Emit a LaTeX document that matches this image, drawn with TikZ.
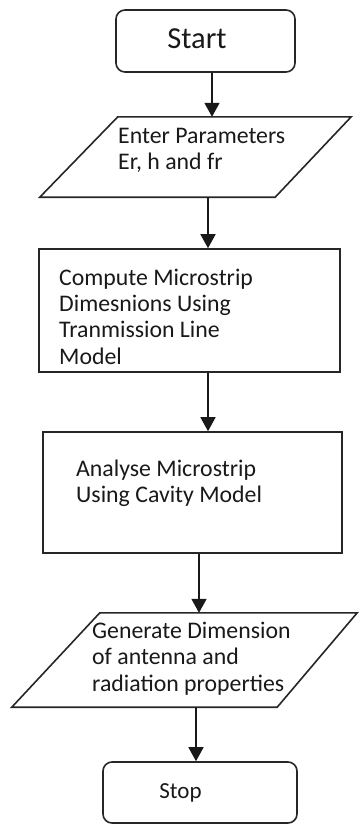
\documentclass[tikz,border=0pt]{standalone}
\usepackage{fontspec}
\setmainfont{Carlito}
\usetikzlibrary{arrows.meta,calc}
\newcommand{\tstrut}{\rule{0pt}{18pt}}
\begin{document}
\begin{tikzpicture}[x=1pt,y=-1pt,
  shp/.style={draw=black!85, line width=1.6pt, inner sep=0pt},
  ghost/.style={draw=none, inner sep=0pt},
  arr/.style={draw=black!90, line width=1.6pt, -{Triangle[length=14pt,width=15pt]}},
  txt/.style={anchor=north west, inner sep=0pt, align=left, text=black!90},
  body/.style={font=\fontsize{23.8}{26.3}\selectfont}]
\useasboundingbox (0,0) rectangle (359,825);

% shapes
\node[shp, rounded corners=9pt, minimum width=179pt, minimum height=62pt] (start) at (205.5,41) {};
\node[ghost, minimum width=157pt, minimum height=80pt] (p1) at (196.5,157) {};
\draw[shp] (p1.north west) -- ($(p1.north east)+(76,0)$) -- (p1.south east) -- ($(p1.south west)+(-78,0)$) -- cycle;
\node[shp, minimum width=301pt, minimum height=123pt] (b2) at (189.5,310.5) {};
\node[shp, minimum width=299pt, minimum height=121pt] (b3) at (192.5,492.5) {};
\node[ghost, minimum width=177pt, minimum height=94pt] (p2) at (188.5,660) {};
\draw[shp] (p2.north west) -- ($(p2.north east)+(80,0)$) -- (p2.south east) -- ($(p2.south west)+(-88,0)$) -- cycle;
\node[shp, rounded corners=9pt, minimum width=194pt, minimum height=61pt] (stop) at (200,792.5) {};

% texts
\node[anchor=base, inner sep=0pt, text=black!90, font=\fontsize{30.5}{34}\selectfont] (t1) at (197,48) {Start};
\node[txt, font=\fontsize{23.8}{26}\selectfont] (t2) at (118,125) {\tstrut Enter Parameters\\Er, h and fr};
\node[txt, body] (t3) at (59,267) {\tstrut Compute Microstrip\\Dimesnions Using\\Tranmission Line\\Model};
\node[txt, font=\fontsize{23.8}{26}\selectfont] (t4) at (76,458) {\tstrut Analyse Microstrip\\Using Cavity Model};
\node[txt, font=\fontsize{23.8}{26.5}\selectfont] (t5) at (92,620) {\tstrut Generate Dimension\\of antenna and\\radiation properties};
\node[anchor=base, inner sep=0pt, text=black!90, font=\fontsize{23}{26}\selectfont] (t6) at (180.5,798) {Stop};

% arrow columns
\coordinate (x1) at (212,0);
\coordinate (x2) at (208,0);
\coordinate (x3) at (208,0);
\coordinate (x4) at (199,0);
\coordinate (x5) at (196,0);

\draw[arr] (start.south -| x1) -- (p1.north -| x1);
\draw[arr] (p1.south -| x2) -- (b2.north -| x2);
\draw[arr] (b2.south -| x3) -- (b3.north -| x3);
\draw[arr] (b3.south -| x4) -- (p2.north -| x4);
\draw[arr] (p2.south -| x5) -- (stop.north -| x5);
\end{tikzpicture}
\end{document}
